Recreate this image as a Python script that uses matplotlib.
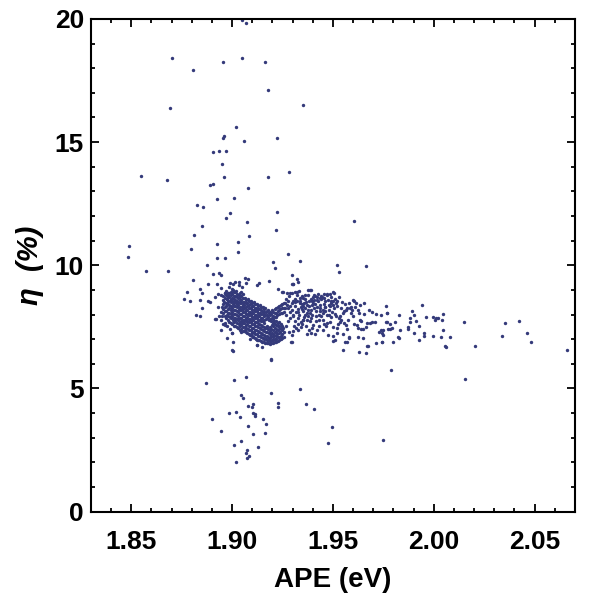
import matplotlib
matplotlib.use("Agg")
import matplotlib.pyplot as plt
import numpy as np
from matplotlib.ticker import MultipleLocator

# APE (eV), eta (%), grouped by region
upper = [
    (1.905, 19.95), (1.907, 19.85), (1.8703, 18.43), (1.8804, 17.94), (1.8956, 18.24),
    (1.905, 18.43), (1.9164, 18.24), (1.9176, 17.13), (1.8693, 16.40), (1.935, 16.51),
    (1.9019, 15.60), (1.8959, 15.23), (1.8956, 15.18), (1.9057, 15.03), (1.922, 15.16),
    (1.8906, 14.59), (1.8936, 14.63), (1.8969, 14.63), (1.8948, 14.13), (1.8549, 13.61),
    (1.8675, 13.48), (1.8959, 13.57), (1.9177, 13.57), (1.928, 13.77), (1.8888, 13.25),
    (1.8903, 13.32), (1.9078, 13.15), (1.8923, 12.70), (1.9007, 12.74), (1.8825, 12.43),
    (1.8857, 12.36), (1.8987, 12.11), (1.922, 12.15), (1.8967, 11.93), (1.8852, 11.60),
    (1.9075, 11.74), (1.9605, 11.80), (1.8812, 11.24), (1.9083, 11.17), (1.9215, 11.44),
    (1.849, 10.77), (1.8797, 10.67), (1.8926, 10.85), (1.9028, 10.93), (1.8485, 10.35),
    (1.8923, 10.31), (1.8963, 10.31), (1.903, 10.52), (1.9276, 10.45), (1.9336, 10.19),
    (1.9203, 10.12), (1.9212, 9.88), (1.9518, 10.02), (1.9529, 9.74), (1.9666, 9.99),
    (1.8876, 10.02), (1.868, 9.77), (1.8575, 9.75), (1.9295, 9.62), (1.9322, 9.45),
]

left_edge = [
    (1.8807, 9.42), (1.8881, 9.24), (1.884, 9.02), (1.8774, 8.92), (1.8852, 8.88),
    (1.8759, 8.65), (1.8789, 8.54), (1.8842, 8.59), (1.8881, 8.57), (1.8849, 8.28),
    (1.8822, 8.00), (1.8839, 7.93), (1.8903, 9.66), (1.8933, 9.69), (1.8946, 9.61),
    (1.8987, 9.30), (1.9002, 9.24), (1.9015, 9.33), (1.9032, 9.34), (1.9033, 9.20),
    (1.9063, 9.47), (1.908, 9.45), (1.9068, 9.28), (1.9047, 9.12), (1.8923, 9.26),
    (1.8946, 9.07), (1.8928, 8.85), (1.8943, 8.81), (1.8964, 8.88), (1.898, 8.81),
    (1.8997, 9.05), (1.9017, 8.94), (1.8974, 8.63), (1.889, 8.51), (1.8914, 8.72),
    (1.8932, 8.29), (1.8948, 8.31), (1.8943, 8.09), (1.8934, 7.93), (1.8914, 7.82),
    (1.8943, 7.79), (1.8964, 7.66), (1.8953, 7.62), (1.8972, 7.52), (1.8944, 7.39),
    (1.8989, 7.41), (1.8997, 7.25), (1.8974, 7.05), (1.9005, 6.89), (1.9002, 6.54),
    (1.8918, 7.83), (1.8948, 7.96), (1.8963, 7.58), (1.9327, 9.31), (1.9181, 9.37),
    (1.9302, 9.24), (1.9295, 9.23), (1.9134, 9.28), (1.9121, 9.22), (1.9225, 9.04),
    (1.925, 8.93), (1.927, 8.88), (1.9193, 6.20),
]

core = [
    (1.8955, 8.05), (1.8957, 8.22), (1.8953, 8.41), (1.8956, 8.58), (1.8954, 8.76),
    (1.897, 7.85), (1.8972, 8.00), (1.8969, 8.15), (1.8971, 8.33), (1.8968, 8.48),
    (1.8972, 8.62), (1.897, 8.80), (1.8971, 8.95),
    (1.8985, 7.70), (1.8987, 7.92), (1.8984, 8.08), (1.8986, 8.25), (1.8983, 8.38),
    (1.8987, 8.55), (1.8985, 8.71), (1.8984, 8.86), (1.8986, 9.10),
    (1.9, 7.60), (1.9002, 7.78), (1.8999, 7.95), (1.9001, 8.12), (1.9, 8.28),
    (1.9002, 8.43), (1.8999, 8.57), (1.9001, 8.69), (1.9, 8.83), (1.9002, 8.98),
    (1.9015, 7.55), (1.9016, 7.72), (1.9014, 7.88), (1.9016, 8.03), (1.9013, 8.18),
    (1.9015, 8.34), (1.9017, 8.47), (1.9014, 8.61), (1.9016, 8.75), (1.9015, 8.90),
    (1.903, 7.45), (1.9032, 7.62), (1.9029, 7.80), (1.9031, 7.95), (1.903, 8.10),
    (1.9032, 8.24), (1.9029, 8.39), (1.9031, 8.52), (1.903, 8.66), (1.9032, 8.80),
    (1.9045, 7.40), (1.9046, 7.56), (1.9044, 7.72), (1.9046, 7.88), (1.9043, 8.02),
    (1.9045, 8.18), (1.9047, 8.31), (1.9044, 8.45), (1.9046, 8.60), (1.9045, 8.74),
    (1.9046, 8.92),
    (1.906, 7.32), (1.9062, 7.50), (1.9059, 7.66), (1.9061, 7.80), (1.906, 7.96),
    (1.9062, 8.10), (1.9059, 8.25), (1.9061, 8.38), (1.906, 8.53), (1.9062, 8.68),
    (1.9075, 7.25), (1.9077, 7.43), (1.9074, 7.60), (1.9076, 7.75), (1.9075, 7.90),
    (1.9077, 8.04), (1.9074, 8.20), (1.9076, 8.33), (1.9075, 8.48), (1.9077, 8.62),
    (1.909, 7.18), (1.9092, 7.36), (1.9089, 7.52), (1.9091, 7.68), (1.909, 7.83),
    (1.9092, 7.98), (1.9089, 8.12), (1.9091, 8.27), (1.909, 8.41), (1.9092, 8.56),
    (1.9105, 7.10), (1.9107, 7.28), (1.9104, 7.45), (1.9106, 7.60), (1.9105, 7.76),
    (1.9107, 7.92), (1.9104, 8.06), (1.9106, 8.20), (1.9105, 8.35), (1.9107, 8.50),
    (1.912, 7.02), (1.9122, 7.20), (1.9119, 7.37), (1.9121, 7.53), (1.912, 7.70),
    (1.9122, 7.85), (1.9119, 8.00), (1.9121, 8.14), (1.912, 8.28), (1.9122, 8.44),
    (1.9135, 6.95), (1.9137, 7.12), (1.9134, 7.30), (1.9136, 7.46), (1.9135, 7.62),
    (1.9137, 7.78), (1.9134, 7.94), (1.9136, 8.08), (1.9135, 8.22), (1.9137, 8.38),
    (1.915, 6.90), (1.9152, 7.05), (1.9149, 7.22), (1.9151, 7.38), (1.915, 7.55),
    (1.9152, 7.72), (1.9149, 7.88), (1.9151, 8.02), (1.915, 8.16), (1.9152, 8.32),
    (1.9165, 6.86), (1.9167, 7.00), (1.9164, 7.15), (1.9166, 7.31), (1.9165, 7.47),
    (1.9167, 7.82), (1.9164, 7.97), (1.9166, 8.12), (1.9165, 8.27),
    (1.918, 6.84), (1.9182, 6.97), (1.9179, 7.10), (1.9181, 7.25), (1.918, 7.40),
    (1.9182, 7.78), (1.9179, 7.92), (1.9181, 8.06), (1.918, 8.20),
    (1.9195, 6.85), (1.9197, 6.98), (1.9194, 7.12), (1.9196, 7.27), (1.9195, 7.43),
    (1.9197, 7.56), (1.9194, 7.72), (1.9196, 7.88), (1.9195, 8.02), (1.9197, 8.18),
    (1.921, 6.88), (1.9212, 7.02), (1.9209, 7.16), (1.9211, 7.30), (1.921, 7.45),
    (1.9212, 7.60), (1.9209, 7.75), (1.9211, 7.90), (1.921, 8.05), (1.9212, 8.22),
    (1.9225, 6.92), (1.9227, 7.07), (1.9224, 7.22), (1.9226, 7.37), (1.9225, 7.52),
    (1.9227, 7.66), (1.9224, 7.98), (1.9226, 8.15), (1.9225, 8.30),
    (1.924, 7.00), (1.9242, 7.15), (1.9239, 7.30), (1.9241, 7.45), (1.924, 7.60),
    (1.9242, 8.05), (1.9239, 8.22), (1.9241, 8.38),
    (1.9255, 7.10), (1.9257, 7.28), (1.9254, 7.45), (1.9256, 8.10), (1.9255, 8.28),
    (1.9257, 8.45),
    (1.9027, 7.82), (1.9043, 7.67), (1.9067, 7.79), (1.9063, 7.39), (1.9042, 7.29),
    (1.9096, 7.25), (1.9104, 7.11), (1.9121, 6.98), (1.9088, 7.02), (1.9124, 6.76),
    (1.9146, 6.67), (1.9121, 6.78),
]

core_fill = [
    (1.8963, 7.95), (1.8963, 8.13), (1.8964, 8.31), (1.8962, 8.50), (1.8963, 8.68),
    (1.8964, 8.87),
    (1.8978, 7.78), (1.8979, 7.93), (1.8977, 8.08), (1.8978, 8.24), (1.8979, 8.41),
    (1.8977, 8.55), (1.8978, 8.72), (1.8979, 8.88),
    (1.8993, 7.66), (1.8994, 7.85), (1.8992, 8.02), (1.8993, 8.18), (1.8994, 8.34),
    (1.8992, 8.50), (1.8993, 8.64), (1.8994, 8.78), (1.8992, 8.92),
    (1.9008, 7.52), (1.9009, 7.69), (1.9007, 7.87), (1.9008, 8.04), (1.9009, 8.20),
    (1.9007, 8.36), (1.9008, 8.50), (1.9009, 8.63), (1.9007, 8.77), (1.9008, 8.93),
    (1.9023, 7.50), (1.9024, 7.66), (1.9022, 7.83), (1.9023, 7.99), (1.9024, 8.14),
    (1.9022, 8.29), (1.9023, 8.43), (1.9024, 8.57), (1.9022, 8.71), (1.9023, 8.85),
    (1.9038, 7.38), (1.9039, 7.54), (1.9037, 7.71), (1.9038, 7.87), (1.9039, 8.03),
    (1.9037, 8.17), (1.9038, 8.32), (1.9039, 8.46), (1.9037, 8.59), (1.9038, 8.73),
    (1.9039, 8.86),
    (1.9053, 7.35), (1.9054, 7.50), (1.9052, 7.64), (1.9053, 7.80), (1.9054, 7.95),
    (1.9052, 8.10), (1.9053, 8.24), (1.9054, 8.38), (1.9052, 8.52), (1.9053, 8.67),
    (1.9054, 8.82),
    (1.9068, 7.28), (1.9069, 7.44), (1.9067, 7.59), (1.9068, 7.73), (1.9069, 7.88),
    (1.9067, 8.03), (1.9068, 8.17), (1.9069, 8.31), (1.9067, 8.45), (1.9068, 8.60),
    (1.9083, 7.20), (1.9084, 7.37), (1.9082, 7.53), (1.9083, 7.68), (1.9084, 7.83),
    (1.9082, 7.97), (1.9083, 8.12), (1.9084, 8.26), (1.9082, 8.40), (1.9083, 8.55),
    (1.9098, 7.13), (1.9099, 7.30), (1.9097, 7.46), (1.9098, 7.62), (1.9099, 7.77),
    (1.9097, 7.91), (1.9098, 8.05), (1.9099, 8.20), (1.9097, 8.34), (1.9098, 8.48),
    (1.9113, 7.05), (1.9114, 7.22), (1.9112, 7.38), (1.9113, 7.55), (1.9114, 7.70),
    (1.9112, 7.85), (1.9113, 7.99), (1.9114, 8.13), (1.9112, 8.28), (1.9113, 8.42),
    (1.9128, 6.98), (1.9129, 7.15), (1.9127, 7.32), (1.9128, 7.48), (1.9129, 7.64),
    (1.9127, 7.79), (1.9128, 7.93), (1.9129, 8.07), (1.9127, 8.22), (1.9128, 8.36),
    (1.9143, 6.92), (1.9144, 7.08), (1.9142, 7.25), (1.9143, 7.42), (1.9144, 7.58),
    (1.9142, 7.74), (1.9143, 7.88), (1.9144, 8.02), (1.9142, 8.17), (1.9143, 8.30),
    (1.9158, 6.87), (1.9159, 7.02), (1.9157, 7.18), (1.9158, 7.34), (1.9159, 7.50),
    (1.9157, 7.64), (1.9158, 7.80), (1.9159, 7.95), (1.9157, 8.10), (1.9158, 8.24),
    (1.9173, 6.83), (1.9174, 6.96), (1.9172, 7.12), (1.9173, 7.28), (1.9174, 7.44),
    (1.9172, 7.55), (1.9173, 7.85), (1.9174, 8.00), (1.9172, 8.14),
    (1.9188, 6.82), (1.9189, 6.94), (1.9187, 7.06), (1.9188, 7.20), (1.9189, 7.35),
    (1.9187, 7.50), (1.9188, 7.84), (1.9189, 7.98), (1.9187, 8.12),
    (1.9203, 6.84), (1.9204, 6.96), (1.9202, 7.09), (1.9203, 7.23), (1.9204, 7.37),
    (1.9202, 7.52), (1.9203, 7.67), (1.9204, 7.82), (1.9202, 7.96), (1.9203, 8.12),
    (1.9218, 6.88), (1.9219, 7.00), (1.9217, 7.14), (1.9218, 7.28), (1.9219, 7.43),
    (1.9217, 7.58), (1.9218, 7.72), (1.9219, 7.90), (1.9217, 8.08), (1.9218, 8.25),
    (1.9233, 6.95), (1.9234, 7.10), (1.9232, 7.25), (1.9233, 7.40), (1.9234, 7.55),
    (1.9232, 7.70), (1.9233, 8.02), (1.9234, 8.18), (1.9232, 8.34),
    (1.9248, 7.05), (1.9249, 7.22), (1.9247, 7.38), (1.9248, 7.52), (1.9249, 8.08),
    (1.9247, 8.25), (1.9248, 8.42),
]

wing = [
    (1.926, 8.45), (1.9265, 8.62), (1.928, 8.75), (1.9285, 8.35), (1.931, 8.65),
    (1.932, 8.78), (1.9335, 8.55), (1.9345, 8.42), (1.936, 8.62), (1.9365, 8.50),
    (1.9375, 8.78), (1.9395, 8.55), (1.941, 8.42), (1.9425, 8.55), (1.944, 8.62),
    (1.9455, 8.68), (1.9475, 8.60), (1.949, 8.70), (1.9285, 8.10), (1.930, 7.95),
    (1.9315, 8.10), (1.933, 7.98), (1.9355, 7.90), (1.937, 8.05), (1.939, 7.85),
    (1.929, 6.87), (1.9302, 7.32), (1.9295, 7.18), (1.9344, 7.63), (1.9352, 7.79),
    (1.9369, 7.79), (1.9295, 6.87),
    (1.9248, 8.92), (1.9286, 8.88), (1.9299, 8.88), (1.9311, 8.92), (1.9322, 8.92),
    (1.9331, 8.97), (1.9302, 9.24), (1.9374, 9.00), (1.9384, 9.01), (1.9389, 9.00),
    (1.9278, 8.57), (1.927, 8.40), (1.9261, 8.27), (1.9278, 8.27), (1.9295, 8.20),
    (1.9311, 8.33), (1.9327, 8.24), (1.9295, 8.47), (1.9302, 8.54), (1.9312, 8.50),
    (1.9324, 8.54), (1.9336, 8.47), (1.9344, 8.74), (1.9352, 8.67), (1.9336, 8.67),
    (1.9302, 8.00), (1.9286, 7.86), (1.9311, 7.72), (1.9327, 7.86), (1.9339, 7.68),
    (1.9349, 7.79), (1.9339, 7.50), (1.9327, 7.39),
    (1.9379, 8.54), (1.9369, 8.40), (1.9377, 8.20), (1.9362, 8.27), (1.9352, 8.33),
    (1.9346, 8.21), (1.9385, 8.07), (1.9395, 8.00), (1.9374, 7.93), (1.9361, 8.00),
    (1.9352, 8.13), (1.939, 8.65), (1.9399, 8.72), (1.9413, 8.74), (1.9407, 8.80),
    (1.9421, 8.70), (1.9421, 8.59), (1.9435, 8.67), (1.9441, 8.77), (1.9446, 8.73),
    (1.9453, 8.84), (1.946, 8.57), (1.9468, 8.80), (1.9484, 8.84), (1.9501, 8.93),
    (1.9506, 8.88), (1.9501, 8.55), (1.9491, 8.47), (1.9478, 8.40), (1.9484, 8.33),
    (1.9481, 8.20), (1.9493, 8.12), (1.9488, 7.90), (1.9479, 8.00), (1.9514, 7.93),
    (1.9508, 8.02), (1.9455, 8.44), (1.9458, 8.29), (1.9448, 8.19), (1.9436, 8.28),
    (1.9438, 8.40), (1.9423, 8.31), (1.9418, 8.13), (1.9408, 8.27), (1.9402, 8.47),
    (1.9394, 8.40), (1.9431, 8.00), (1.9443, 7.93), (1.946, 8.13), (1.9468, 8.00),
    (1.9382, 7.39), (1.9389, 7.25), (1.9372, 7.22), (1.941, 7.22), (1.9421, 7.39),
    (1.9431, 7.52), (1.9448, 7.39), (1.9464, 7.52), (1.9471, 7.66), (1.9431, 7.76),
    (1.9451, 7.79), (1.9415, 7.72), (1.9402, 7.59), (1.9385, 7.72), (1.9476, 7.18),
    (1.9498, 7.14), (1.9509, 6.98), (1.9498, 6.93), (1.9522, 7.47), (1.9519, 7.26),
    (1.9525, 7.63), (1.9501, 7.48), (1.9522, 8.54), (1.9509, 8.63), (1.9514, 8.47),
    (1.9501, 8.40),
    (1.9265, 8.00), (1.9275, 7.75), (1.9268, 7.55), (1.928, 7.30), (1.9305, 7.55),
    (1.9318, 7.45), (1.9325, 8.10), (1.934, 8.30), (1.9358, 8.45), (1.9362, 8.78),
    (1.9383, 8.35), (1.9392, 8.18), (1.9405, 8.60), (1.9415, 7.95), (1.9428, 8.85),
    (1.9435, 8.15), (1.9452, 8.05), (1.9462, 8.30), (1.9472, 8.85), (1.9488, 8.55),
    (1.9505, 8.25), (1.952, 8.35), (1.9532, 8.70), (1.954, 8.25), (1.9545, 8.50),
    (1.9566, 8.20), (1.9578, 8.48), (1.961, 8.30), (1.9325, 7.60), (1.9365, 7.55),
    (1.9395, 7.45), (1.9455, 7.60), (1.9485, 7.70), (1.953, 7.85),
]

tail = [
    (1.9534, 7.94), (1.9549, 8.05), (1.9554, 8.13), (1.957, 8.25), (1.9585, 8.27),
    (1.959, 8.32), (1.9598, 8.59), (1.956, 8.43), (1.9542, 7.79), (1.9535, 7.68),
    (1.9564, 7.58), (1.9555, 7.64), (1.955, 7.21), (1.9549, 6.57), (1.956, 6.90),
    (1.9569, 6.89), (1.958, 7.09), (1.958, 7.03), (1.957, 7.41), (1.9575, 7.79),
    (1.9592, 8.17), (1.9587, 8.05), (1.9597, 7.96), (1.9605, 7.60), (1.962, 7.56),
    (1.9637, 7.43), (1.9625, 7.44), (1.9622, 7.11), (1.9648, 7.03), (1.9635, 7.80),
    (1.9641, 7.75), (1.9603, 8.54), (1.9613, 8.48), (1.9622, 8.20), (1.9627, 8.07),
    (1.9633, 8.40), (1.9656, 8.48), (1.9654, 8.01), (1.9628, 6.50), (1.9669, 6.74),
    (1.9666, 6.44), (1.9676, 6.71), (1.9669, 7.64), (1.9666, 7.51), (1.9649, 7.41),
    (1.9692, 7.70), (1.9683, 7.66), (1.9691, 8.12), (1.9679, 8.20), (1.9711, 8.01),
    (1.9707, 7.68), (1.9726, 7.28), (1.9714, 6.86), (1.9747, 7.39), (1.9744, 7.24),
    (1.9741, 6.90), (1.9763, 8.33), (1.9768, 8.06), (1.9762, 7.70), (1.9783, 7.41),
    (1.9798, 6.87), (1.974, 7.97), (1.977, 8.05), (1.977, 7.70), (1.9782, 7.62),
    (1.9808, 7.68), (1.9825, 7.97), (1.9831, 7.37), (1.9826, 7.03), (1.9823, 7.07),
    (1.9793, 7.44), (1.9772, 7.40), (1.9748, 7.18), (1.9737, 7.36), (1.9745, 6.90),
    (1.9894, 8.13), (1.9902, 7.98), (1.9881, 7.86), (1.9882, 7.68), (1.9872, 7.50),
    (1.9871, 7.41), (1.9912, 7.74), (1.9927, 7.52), (1.9925, 6.97), (1.9901, 7.25),
    (1.994, 8.40), (1.9963, 7.90), (1.9998, 7.90), (2.0013, 7.86), (2.0023, 7.85),
    (2.0006, 7.76), (2.0046, 8.01), (2.0041, 7.78), (1.9952, 7.24), (1.9952, 7.14),
    (1.9995, 7.13), (2.0034, 7.10), (2.0044, 7.36), (2.008, 7.11), (2.0054, 6.72),
    (2.006, 6.67), (2.015, 7.71), (2.0204, 6.72), (2.0338, 7.14), (2.0353, 7.67),
    (2.0421, 7.72), (2.046, 7.25), (2.048, 6.89), (2.066, 6.57),
]

lower = [
    (1.8868, 5.23), (1.9009, 5.33), (1.9067, 5.45), (1.9193, 6.17), (1.9042, 4.72),
    (1.9052, 4.61), (1.9195, 4.80), (1.9337, 4.99), (1.9078, 4.30), (1.9103, 4.39),
    (1.9098, 4.23), (1.9228, 4.41), (1.9228, 4.23), (1.9364, 4.39), (1.9407, 4.17),
    (1.8982, 4.00), (1.9019, 4.05), (1.9101, 4.01), (1.9113, 3.98), (1.9114, 3.90),
    (1.904, 3.84), (1.8901, 3.76), (1.9154, 3.76), (1.9169, 3.55), (1.9079, 3.48),
    (1.8944, 3.27), (1.9103, 3.17), (1.9164, 3.20), (1.9496, 3.43), (1.9043, 2.86),
    (1.9476, 2.79), (1.901, 2.70), (1.9129, 2.63), (1.9075, 2.50), (1.9067, 2.37),
    (1.9084, 2.24), (1.9076, 2.17), (1.9019, 2.01), (1.975, 2.89), (1.9787, 5.76),
    (2.0155, 5.38), (1.8997, 7.25), (1.9, 6.56),
]

pts = np.array(upper + left_edge + core + core_fill + wing + tail + lower)
ape, eta = pts[:, 0], pts[:, 1]

plt.rcParams['font.family'] = ['Liberation Sans', 'DejaVu Sans']

fig = plt.figure(figsize=(5.89, 5.94), dpi=100)
ax = fig.add_axes([0.1545, 0.1386, 0.8217, 0.8295])
ax.scatter(ape, eta, s=6, color='#343a7a', linewidths=0)

ax.set_xlim(1.83, 2.07)
ax.set_ylim(0, 20)
ax.xaxis.set_minor_locator(MultipleLocator(0.01))
ax.yaxis.set_major_locator(MultipleLocator(5))
ax.yaxis.set_minor_locator(MultipleLocator(1))
ax.set_xticks([1.85, 1.90, 1.95, 2.00, 2.05])
ax.set_xticklabels(['1.85', '1.90', '1.95', '2.00', '2.05'])

ax.tick_params(which='both', direction='in', top=True, right=True, width=1.3,
               labelsize=19, colors='black')
ax.tick_params(which='major', length=6)
ax.tick_params(which='minor', length=3)
ax.tick_params(axis='x', which='major', pad=13.5)
ax.tick_params(axis='y', which='major', pad=5)
for lab in ax.get_xticklabels() + ax.get_yticklabels():
    lab.set_fontweight('bold')
for sp in ax.spines.values():
    sp.set_linewidth(1.5)

ax.set_xlabel('APE (eV)', fontsize=20, fontweight='bold', labelpad=9)
ax.set_ylabel('η  (%)', fontsize=21, fontweight='bold', fontstyle='italic', labelpad=8)

fig.savefig('out.png', dpi=100)
